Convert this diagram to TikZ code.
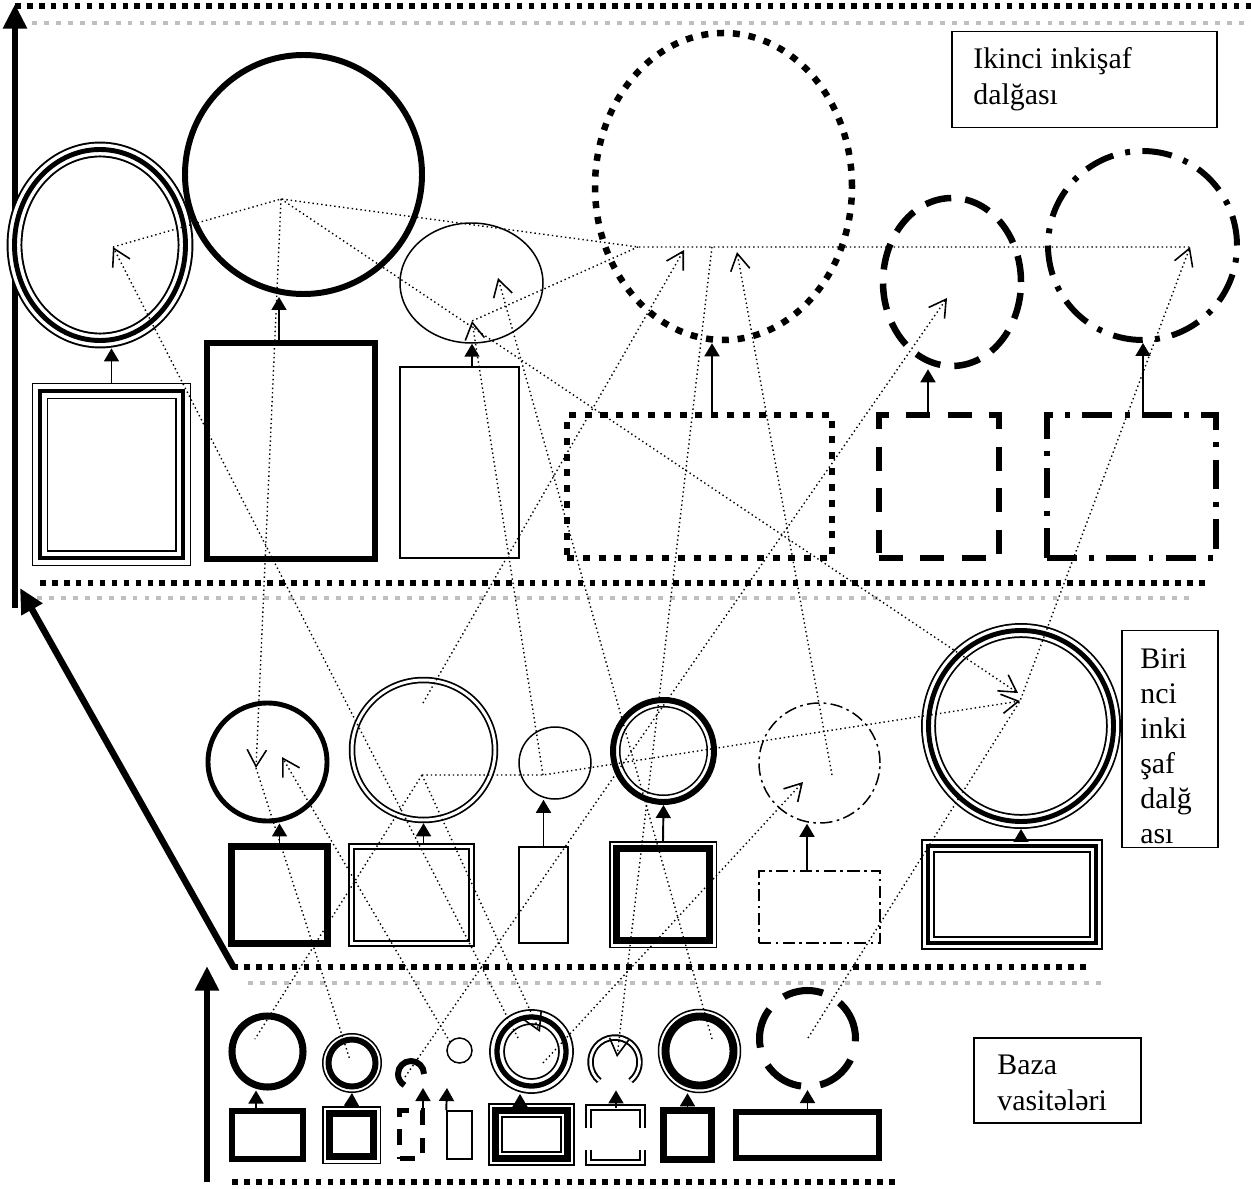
\documentclass[tikz,border=0pt]{standalone}
\usepackage{fontspec}
\setmainfont{Liberation Serif}
\usetikzlibrary{arrows.meta,shapes.geometric,calc}

\begin{document}
\begin{tikzpicture}[x=0.02cm, y=-0.02cm,
  sz/.style 2 args={minimum width=#1*0.02cm, minimum height=#2*0.02cm},
  ell/.style={ellipse, draw, inner sep=0pt},
  box/.style={rectangle, draw, inner sep=0pt},
  hair/.style={line width=0.85pt},
  fat/.style={line width=3.4pt},
  dbl/.style 2 args={double, line width=#1, double distance=#2, outer sep=#1+0.5*#2},
  sqdots/.style={line width=3.7pt, dash pattern=on 4pt off 5pt},
  dashes/.style={line width=3.7pt, dash pattern=on 15pt off 8pt},
  dashdots/.style={line width=3.4pt, dash pattern=on 17pt off 7pt on 2.8pt off 7pt},
  thindashdot/.style={line width=0.85pt, dash pattern=on 7pt off 2.5pt on 1.5pt off 2.5pt},
  uparr/.style={line width=1.1pt, -{Triangle[length=7.4pt, width=8.5pt]}},
  bigarr/.style={line width=3.7pt, -{Triangle[length=14pt, width=13pt]}},
  link/.style={line width=0.8pt, dash pattern=on 0.8pt off 1.7pt},
  linkto/.style={link, -{Straight Barb[length=9.5pt, width=11pt, line width=0.9pt]}},
  band/.style={line width=3.4pt, dash pattern=on 3.2pt off 3.6pt},
  greyband/.style={line width=2.8pt, draw=gray!50, dash pattern=on 2.8pt off 4pt},
  frame/.style={rectangle, draw, line width=0.85pt, inner sep=0pt},
  words/.style={inner sep=0pt, align=flush left, font=\fontsize{17}{20}\selectfont}
]
\path[use as bounding box, fill=white] (0,0) rectangle (1251,1189);

% dotted bands between the levels
\draw[band] (15,6) -- (1251,6);
\draw[greyband] (32,23) -- (1251,23);
\draw[band] (40,583) -- (1210,583);
\draw[greyband] (37,598) -- (1193,598);
\draw[band] (232,967) -- (1089,967);
\draw[greyband] (248,983) -- (1106,983);
\draw[band] (232,1182) -- (897,1182);

% growth axes
\coordinate (axis1) at (15,608);
\coordinate (axis1top) at (15,4);
\coordinate (axis2) at (234,968);
\coordinate (axis2top) at (20,588);
\coordinate (axis3) at (207,1182);
\coordinate (axis3top) at (207,966);
\draw[bigarr] (axis1) -- (axis1top);
\draw[bigarr] (axis2) -- (axis2top);
\draw[bigarr] (axis3) -- (axis3top);

% second wave
\node[ell, dbl={1.1pt}{6.8pt}, sz={171}{191}] (e1) at (100,245) {};
\node[ell, line width=2.8pt, sz={171}{191}] (e1mid) at (e1) {};
\node[ell, fat, sz={237}{239}] (e2) at (303.5,174.5) {};
\node[ell, hair, sz={143}{120}] (e3) at (471.5,283) {};
\node[ell, sqdots, sz={257}{307}] (e4) at (723.5,186.5) {};
\node[ell, dashes, sz={138}{168}] (e5) at (952,282) {};
\node[ell, dashdots, sz={189}{189}] (e6) at (1142.5,245.5) {};

\node[box, dbl={1.1pt}{7.4pt}, sz={143}{167}] (r1) at (111.5,474.5) {};
\node[box, line width=2.8pt, sz={143}{167}] (r1mid) at (r1) {};
\node[box, fat, sz={168}{216}] (r2) at (291,451) {};
\node[box, hair, sz={119}{191}] (r3) at (459.5,462.5) {};
\node[box, sqdots, sz={265}{143}] (r4) at (699.5,486.5) {};
\node[box, line width=3.4pt, dash pattern=on 13.6pt off 10pt, sz={120}{143}] (r5) at (939,486.5) {};
\node[box, dashdots, sz={169}{143}] (r6) at (1131.5,486.5) {};

\draw[uparr] (r1.north) -- (r1.north |- e1.south);
\draw[uparr] (r2.north -| 279,0) -- (279,0 |- e2.south);
\draw[uparr] (r3.north -| 472,0) -- (472,0 |- e3.south);
\draw[uparr] (r4.north -| 712,0) -- (712,0 |- e4.south);
\draw[uparr] (r5.north -| 928,0) -- (928,0 |- e5.south);
\draw[uparr] (r6.north -| 1143,0) -- (1143,0 |- e6.south);

\node[frame, sz={265}{96}, anchor=north west] (wave2) at (951,31) {};
\node[words, anchor=north west] (wave2text) at (973,47.5) {Ikinci inkişaf\\dalğası};

% first wave
\node[ell, line width=2.8pt, sz={119}{118}] (m1) at (267.5,762) {};
\node[ell, dbl={1pt}{1.7pt}, sz={143}{140}] (m2) at (423.5,750) {};
\node[ell, hair, sz={72}{72}] (m3) at (555,763) {};
\node[ell, fat, sz={101}{102}] (m4) at (663.5,751) {};
\node[ell, hair, sz={87.5}{88.5}] (m4in) at (m4) {};
\node[ell, thindashdot, sz={121}{120}] (m5) at (819.5,763) {};
\node[ell, dbl={1pt}{6.5pt}, sz={185}{191}] (m6) at (1021,726) {};
\node[ell, line width=2.8pt, sz={185}{191}] (m6mid) at (m6) {};

\node[box, line width=4pt, sz={96}{97}] (n1) at (279.5,895) {};
\node[box, dbl={1pt}{1.5pt}, sz={120}{97}] (n2) at (411.5,895) {};
\node[box, hair, sz={49}{96}] (n3) at (543.5,895) {};
\node[box, hair, sz={106.5}{105.5}] (n4) at (663,894.5) {};
\node[box, line width=4.5pt, sz={93}{92}] (n4in) at (n4) {};
\node[box, thindashdot, sz={121}{72}] (n5) at (819.5,907) {};
\node[box, dbl={1pt}{6pt}, sz={168}{97}] (n6) at (1012,894.5) {};
\node[box, line width=2.5pt, sz={168}{97}] (n6mid) at (n6) {};

\draw[uparr] (n1.north) -- (n1.north |- m1.south);
\draw[uparr] (n2.north -| m2.south) -- (m2.south);
\draw[uparr] (n3.north) -- (n3.north |- m3.south);
\draw[uparr] (n4.north) -- (m4.south);
\draw[uparr] (n5.north -| 807,0) -- (807,0 |- m5.south);
\draw[uparr] (n6.north -| m6.south) -- (m6.south);

\node[frame, sz={96}{217}, anchor=north west] (wave1) at (1121,630) {};
\node[words, anchor=north west] (wave1text) at (1140,648) {Biri\\nci\\inki\\şaf\\dalğ\\ası};

% base means
\node[ell, line width=4pt, sz={71}{71}] (b1) at (267.5,1051.5) {};
\node[ell, hair, sz={58.5}{58.5}] (b2) at (352,1063) {};
\node[ell, fat, sz={47}{47}] (b2in) at (b2) {};
\node[ell, draw=none, sz={32}{32}] (b3) at (411,1074) {};
\draw[fat] (b3.center) ++(13,0) arc[start angle=0, end angle=-240, radius=13];
\node[ell, hair, sz={25}{25}] (b4) at (459.5,1050.5) {};
\node[ell, dbl={1pt}{7pt}, sz={69}{69}] (b5) at (531.5,1051.5) {};
\node[ell, line width=3pt, sz={69}{69}] (b5mid) at (b5) {};
\node[ell, draw=none, sz={56}{56}] (b6) at (615,1062) {};
\draw[double, line width=1.1pt, double distance=1.5pt] (b6.center) ++(130:24.5) arc[start angle=130, end angle=410, radius=24.5];
\node[ell, hair, sz={82}{83}] (b7) at (699.5,1051) {};
\node[ell, line width=4.5pt, sz={68}{69}] (b7in) at (b7) {};
\node[ell, line width=4pt, dash pattern=on 23pt off 11pt, sz={96}{96}] (b8) at (807.5,1038.5) {};

\node[box, fat, sz={71}{48}] (c1) at (267.5,1135) {};
\node[box, hair, sz={57.5}{56.5}] (c2) at (351.5,1135) {};
\node[box, line width=4.5pt, sz={44}{43}] (c2in) at (c2) {};
\node[box, line width=2.8pt, dash pattern=on 9pt off 7pt, sz={23}{48}] (c3) at (411,1134.5) {};
\node[box, hair, sz={25}{48}] (c4) at (459.5,1135) {};
\node[box, dbl={1pt}{6.5pt}, sz={72}{48}] (c5) at (531.5,1134.5) {};
\node[box, line width=3.5pt, sz={72}{48}] (c5mid) at (c5) {};
\node[box, draw=none, sz={53}{54}] (c6) at (615.5,1135) {};
\draw[double, line width=1.1pt, double distance=1.5pt] ($(c6.north west)+(0,20)$) -- (c6.north west) -- (c6.north east) -- ($(c6.north east)+(0,20)$);
\draw[double, line width=1.1pt, double distance=1.5pt] ($(c6.south west)+(0,-12)$) -- (c6.south west) -- (c6.south east) -- ($(c6.south east)+(0,-12)$);
\node[box, line width=4.5pt, sz={48}{49}] (c7) at (687.5,1135) {};
\node[box, fat, sz={143}{46}] (c8) at (807.5,1135) {};

\coordinate (b3tip) at (423,1088);
\coordinate (b4tip) at (447,1088);
\draw[uparr] (c1.north -| 256,0) -- (256,0 |- b1.south);
\draw[uparr] (c2.north) -- (b2.south);
\draw[uparr] (c3.north -| b3tip) -- (b3tip);
\draw[uparr] (c4.north west) -- (b4tip);
\draw[uparr] (c5.north -| 520,0) -- (520,0 |- b5.south);
\draw[uparr] (c6.north -| 616,0) -- (616,0 |- b6.south);
\draw[uparr] (c7.north) -- (c7.north |- b7.south);
\draw[uparr] (c8.north) -- (b8.south);

\node[frame, sz={167}{85}, anchor=north west] (base) at (973,1037) {};
\node[words, anchor=north west] (basetext) at (997,1055) {Baza\\vasitələri};

% points inside the figures that the links join
\coordinate (pA) at (113,247);
\coordinate (pB) at (281,199);
\coordinate (pC) at (472,321);
\coordinate (pD) at (498,278);
\coordinate (pE) at (638,247);
\coordinate (pF) at (712,247);
\coordinate (pG) at (684,250);
\coordinate (pH) at (737,252);
\coordinate (pI) at (947,298);
\coordinate (pJ) at (1190,247);
\coordinate (qA) at (256,768);
\coordinate (qB) at (282,757);
\coordinate (qC) at (423,703);
\coordinate (qD) at (422,775);
\coordinate (qE) at (543,775);
\coordinate (qF) at (832,775);
\coordinate (qG) at (803,782);
\coordinate (qH) at (1018,693);
\coordinate (qI) at (1020,701);
\coordinate (rA) at (255,1039);
\coordinate (rB) at (350,1060);
\coordinate (rC) at (405,1077);
\coordinate (rD) at (450,1042);
\coordinate (rE) at (518,1038);
\coordinate (rF) at (540,1032);
\coordinate (rG) at (543,1063);
\coordinate (rH) at (617,1057);
\coordinate (rI) at (712,1039);
\coordinate (rJ) at (808,1038);

% links
\draw[link] (pA) -- (pB) -- (pE) -- (pJ);
\draw[link] (pE) -- (pC);
\draw[linkto] (pB) -- (qA);
\draw[linkto] (pB) -- (qH);
\draw[linkto] (rE) -- (pA);
\draw[linkto] (qD) -- (rF);
\draw[linkto] (qE) -- (pC);
\draw[linkto] (rI) -- (pD);
\draw[linkto] (qC) -- (pG);
\draw[linkto] (qF) -- (pH);
\draw[linkto] (pF) -- (rH);
\draw[linkto] (rC) -- (pI);
\draw[linkto] (rJ) -- (qI) -- (pJ);
\draw[linkto] (qD) -- (qE) -- (qI);
\draw[link] (qA) -- (rB);
\draw[linkto] (rD) -- (qB);
\draw[link] (qD) -- (rA);
\draw[linkto] (rG) -- (qG);
\end{tikzpicture}
\end{document}
